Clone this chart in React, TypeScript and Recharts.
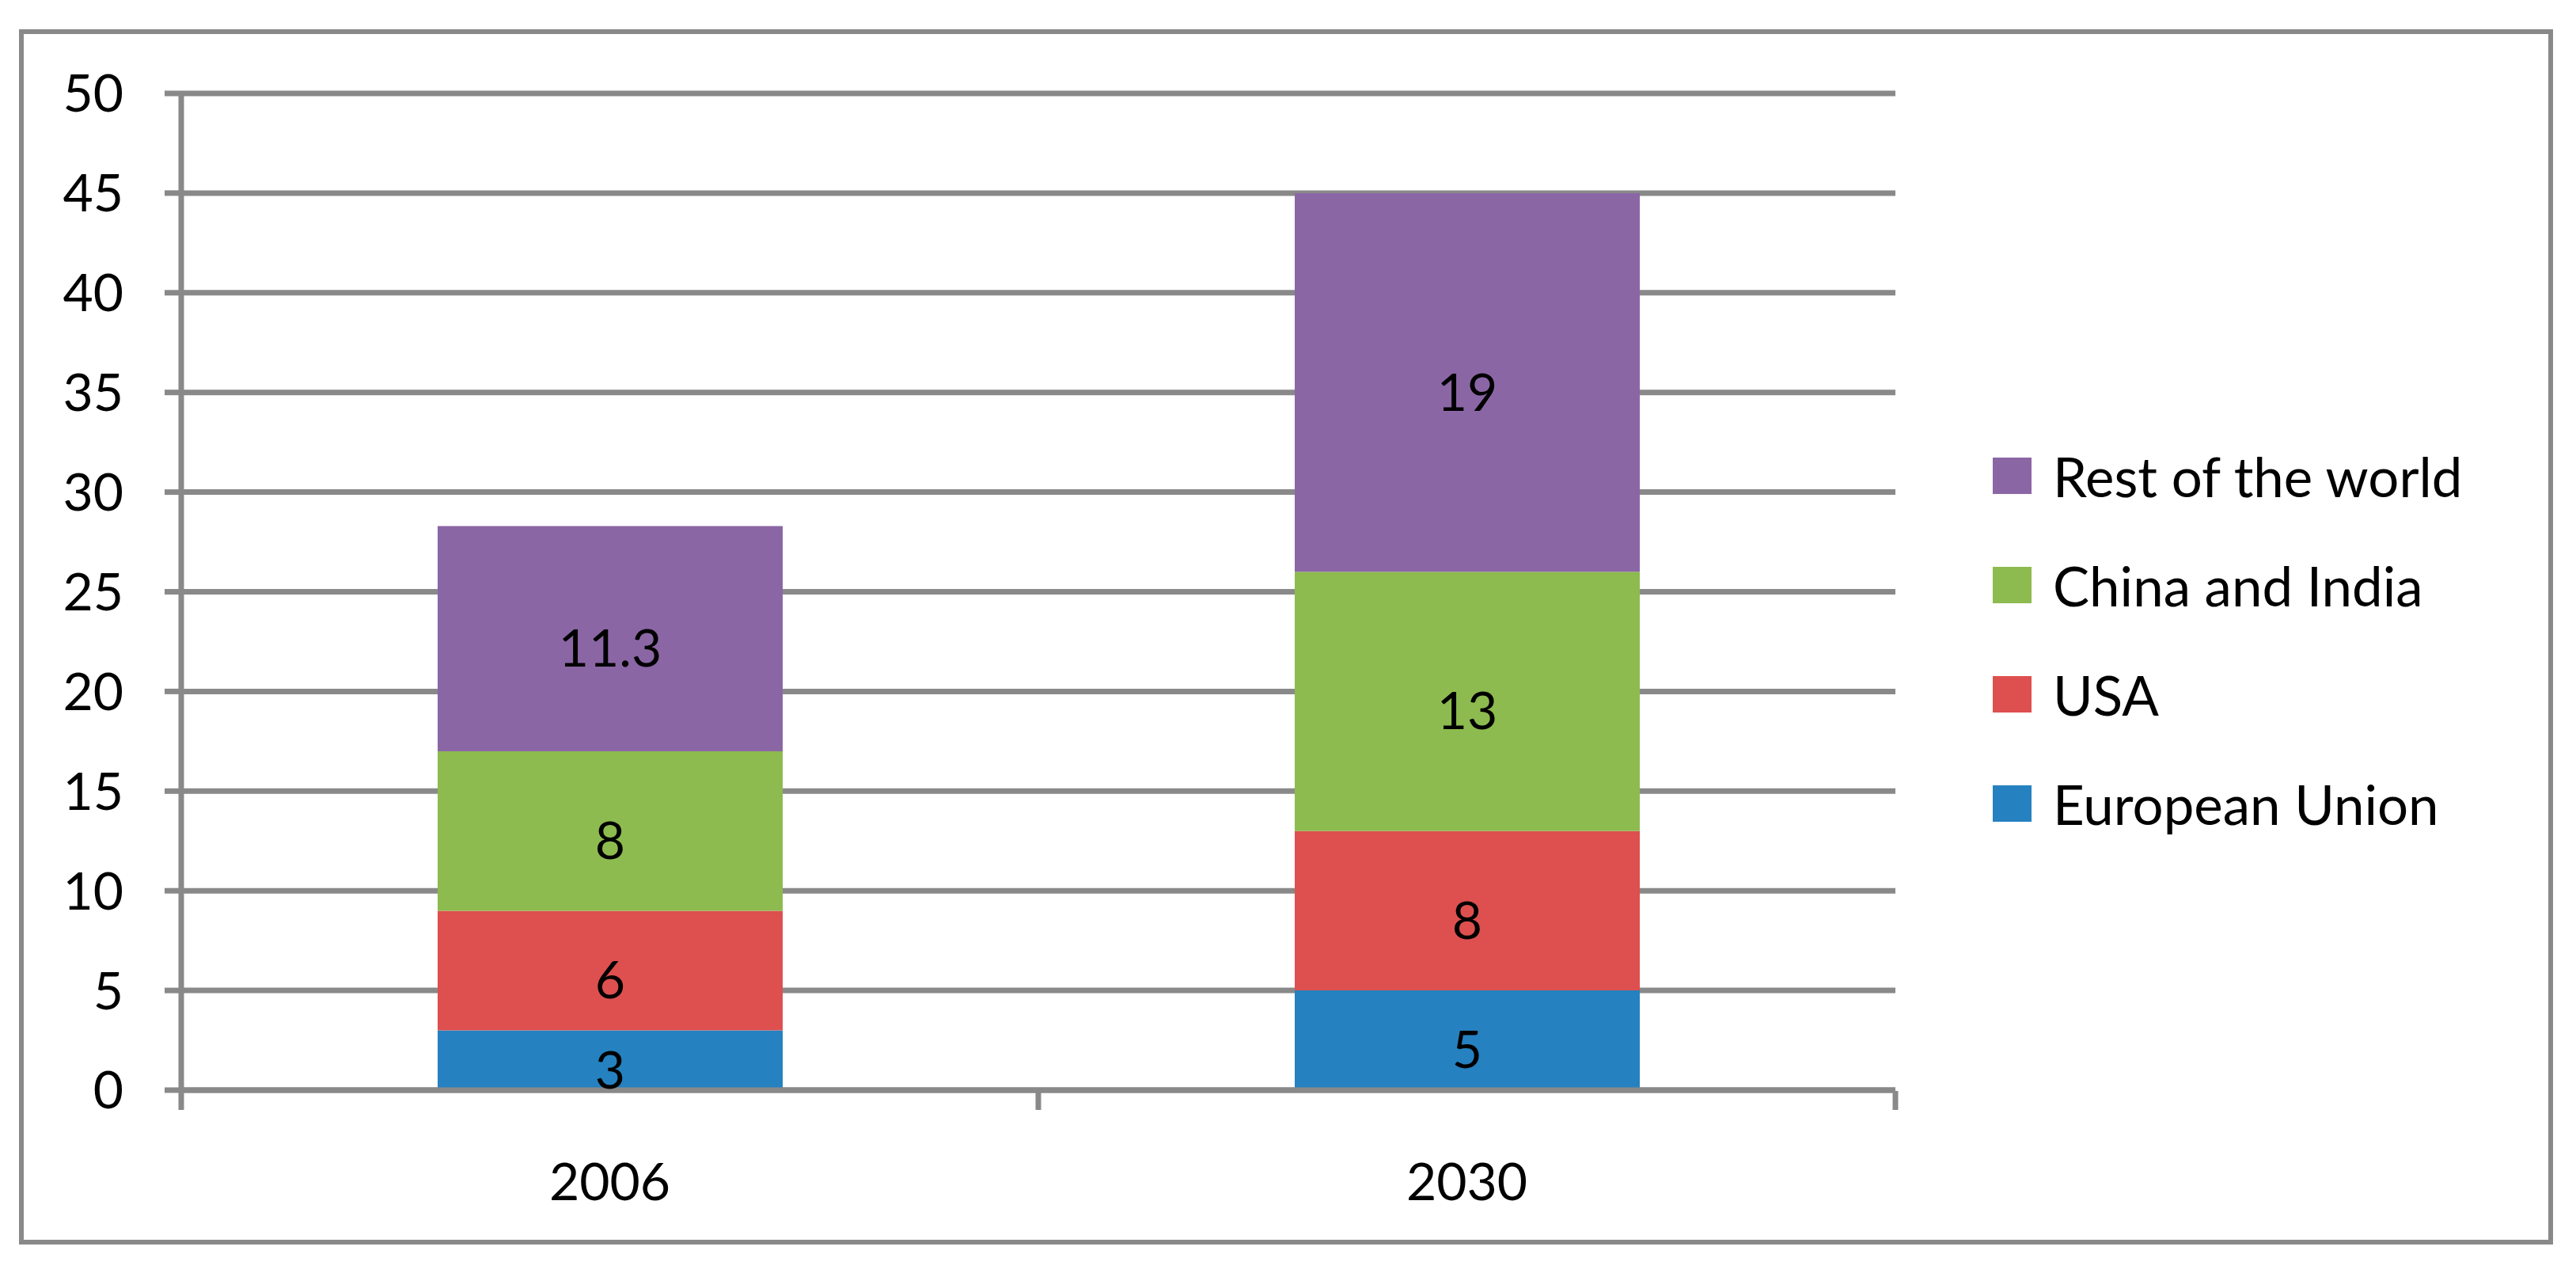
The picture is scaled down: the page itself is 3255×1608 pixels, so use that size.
import React from 'react'
import { BarChart, Bar, XAxis, YAxis, CartesianGrid, LabelList } from 'recharts'

// values
const years = ['2006', '2030']
const europeanUnion = [3, 5]
const usa = [6, 8]
const chinaIndia = [8, 13]
const restOfWorld = [11.3, 19]
const yTicks = [0, 5, 10, 15, 20, 25, 30, 35, 40, 45, 50]
const edgeTicks = [0, 1, 2]

const series = [
  { key: 'eu', name: 'European Union', color: '#2581C0', values: europeanUnion },
  { key: 'usa', name: 'USA', color: '#DD504F', values: usa },
  { key: 'ci', name: 'China and India', color: '#8DBB4F', values: chinaIndia },
  { key: 'row', name: 'Rest of the world', color: '#8B66A5', values: restOfWorld },
]

const rows = years.map((year, i) => {
  const row: { [k: string]: string | number } = { year, pos: i + 0.5 }
  series.forEach(s => {
    row[s.key] = s.values[i]
  })
  return row
})

const GREY = '#898989'
const FONT = 'Lato, "Noto Sans", sans-serif'
const W = 3255
const H = 1608

export default function App() {
  const line = { stroke: GREY, strokeWidth: 7 }
  const tickText = { fill: '#000', fontSize: 66, fontFamily: FONT }

  return (
    <div style={{ position: 'absolute', left: 0, top: 0, width: W, height: H, background: '#fff', fontFamily: FONT }}>
      {/* outer frame */}
      <div
        style={{
          position: 'absolute',
          left: 24,
          top: 37,
          width: 3202,
          height: 1535,
          border: `6px solid ${GREY}`,
          boxSizing: 'border-box',
        }}
      />

      <div style={{ position: 'absolute', left: 0, top: 0 }}>
        <BarChart width={W} height={H} data={rows} margin={{ top: 118, right: 860, bottom: 229, left: 0 }}>
          <CartesianGrid vertical={false} stroke={GREY} strokeWidth={7} />
          <YAxis
            width={229}
            domain={[0, 50]}
            ticks={yTicks}
            interval={0}
            tickSize={21}
            tickMargin={52}
            axisLine={line}
            tickLine={line}
            tick={tickText}
          />
          <XAxis
            xAxisId="cat"
            dataKey="year"
            height={1}
            tickLine={false}
            tickSize={0}
            tickMargin={92}
            axisLine={line}
            tick={tickText}
            interval={0}
          />
          {/* boundary ticks between categories */}
          <XAxis
            xAxisId="edges"
            dataKey="pos"
            type="number"
            domain={[0, 2]}
            ticks={edgeTicks}
            allowDataOverflow
            height={1}
            tick={{ fontSize: 1, fill: 'none' }}
            tickFormatter={() => ''}
            tickSize={24}
            axisLine={false}
            tickLine={line}
            interval={0}
          />
          {series.map(s => (
            <Bar
              key={s.key}
              xAxisId="cat"
              dataKey={s.key}
              name={s.name}
              stackId="a"
              fill={s.color}
              barSize={436}
              isAnimationActive={false}
            >
              <LabelList dataKey={s.key} position="center" fill="#000" fontSize={66} fontFamily={FONT} dy={12} />
            </Bar>
          ))}
        </BarChart>
      </div>

      {/* legend, top item is the top of the stack */}
      <div style={{ position: 'absolute', left: 2518, top: 532 }}>
        {[...series].reverse().map(s => (
          <div key={s.key} style={{ display: 'flex', alignItems: 'center', height: 138 }}>
            <div style={{ width: 49, height: 46, background: s.color, marginRight: 27 }} />
            <span style={{ fontSize: 69, color: '#000', lineHeight: 1, whiteSpace: 'nowrap' }}>{s.name}</span>
          </div>
        ))}
      </div>
    </div>
  )
}
